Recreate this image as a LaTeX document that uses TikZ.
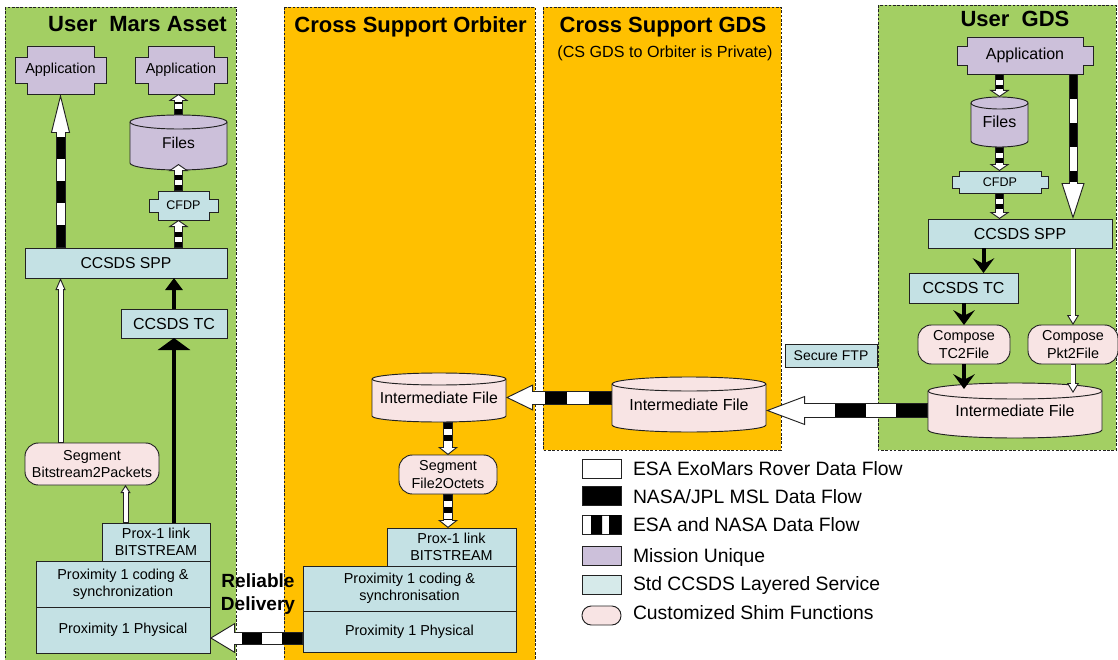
\documentclass[tikz,border=0pt]{standalone}
\usepackage{fontspec}
\setmainfont{Liberation Sans}
\usetikzlibrary{arrows.meta,calc}
\def\px{0.75pt}
\newcommand\fs[2]{\fontsize{#1}{#2}\selectfont}
\definecolor{grn}{HTML}{A3CF63}
\definecolor{org}{HTML}{FFC000}
\definecolor{lav}{HTML}{CCC0DA}
\definecolor{ccsds}{HTML}{C4E1E4}
\definecolor{ccsdsl}{HTML}{D6EAEA}
\definecolor{shimc}{HTML}{F8E4E4}
\definecolor{edge}{HTML}{222222}
% notched box: name, cx, cy, half width, half height, notch x, notch y, style, text
\newcommand\notched[9]{%
  \draw[shapeline,#8] (#2-#4+#6,#3-#5) -- (#2+#4-#6,#3-#5) -- (#2+#4-#6,#3-#5+#7) -- (#2+#4,#3-#5+#7) -- (#2+#4,#3+#5-#7) -- (#2+#4-#6,#3+#5-#7) -- (#2+#4-#6,#3+#5) -- (#2-#4+#6,#3+#5) -- (#2-#4+#6,#3+#5-#7) -- (#2-#4,#3+#5-#7) -- (#2-#4,#3-#5+#7) -- (#2-#4+#6,#3-#5+#7) -- cycle;
  \node[minimum width=2*#4*\px,minimum height=2*#5*\px] (#1) at (#2,#3) {#9};}
% cylinder: name, cx, cy, half width, half height, ellipse ry, style, text
\newcommand\cyl[8]{%
  \draw[shapeline,#7] (#2-#4,#3-#5+#6) -- (#2-#4,#3+#5-#6) arc[start angle=180,end angle=360,x radius=#4*\px,y radius=#6*\px] -- (#2+#4,#3-#5+#6) arc[start angle=0,end angle=180,x radius=#4*\px,y radius=#6*\px] -- cycle;
  \draw[shapeline] (#2-#4,#3-#5+#6) arc[start angle=180,end angle=360,x radius=#4*\px,y radius=#6*\px];
  \node[minimum width=2*#4*\px,minimum height=2*#5*\px] (#1) at (#2,#3) {#8};}
\begin{document}
\begin{tikzpicture}[x=0.75pt,y=-0.75pt,
  every node/.style={align=center,inner sep=0pt,outer sep=0pt},
  shapeline/.style={draw=edge,line width=0.7pt},
  panel/.style={draw=edge,line width=0.6pt,dash pattern=on 2pt off 1.2pt},
  box/.style={shapeline,fill=ccsds,font={\fs{10.8}{13}}},
  shim/.style={shapeline,fill=shimc,rounded corners=10pt,font={\fs{10.8}{13}}},
  title/.style={font={\bfseries\fs{16.5}{20}},anchor=base},
  legsw/.style={shapeline,minimum width=39*\px,minimum height=19*\px},
  legtext/.style={font={\fs{14.5}{17}},anchor=base west},
  stripe/.style n args={5}{draw=edge,line width=#1,
     -{Triangle[width=#2,length=#3,fill=white,line width'=0.7pt]},
     postaction={draw=white,line width=#5,arrows=-,shorten >=#3-1pt,shorten <=0.7pt},
     postaction={draw=black,line width=#5,arrows=-,shorten >=#3+0.4pt,shorten <=0.7pt,dash pattern=on #4 off #4}},
  wflow/.style n args={4}{draw=edge,line width=#1,
     -{Triangle[width=#2,length=#3,fill=white,line width'=0.7pt]},
     postaction={draw=white,line width=#4,arrows=-,shorten >=#3-1pt,shorten <=0.7pt}},
  bflow/.style n args={2}{draw=black,line width=3pt,-{Triangle[width=#1,length=#2]}},
  gflow/.style={draw=black,line width=3pt,-{Stealth[width=16pt,length=11pt,inset=4pt]}},
  bigL/.style={stripe={7.5pt}{14.25pt}{29.25pt}{16.5pt}{6pt}},
  smallS/.style={stripe={7pt}{15pt}{5.25pt}{3.75pt}{5.5pt}},
  smallO/.style={stripe={7.5pt}{15pt}{6pt}{4.5pt}{6pt}},
  bigG/.style={stripe={6.75pt}{17.25pt}{27pt}{18pt}{5.25pt}},
  horzA/.style={stripe={10.5pt}{19.5pt}{20.25pt}{16.5pt}{9pt}},
  horzB/.style={stripe={11.25pt}{21.75pt}{29.25pt}{23pt}{9.75pt}},
  horzC/.style={stripe={9.75pt}{22.5pt}{18.75pt}{15pt}{8.25pt}},
  wthinL/.style={wflow={4.5pt}{7.5pt}{9pt}{3pt}},
  wthinL2/.style={wflow={4.5pt}{7.5pt}{6pt}{3pt}},
  wthinG/.style={wflow={3.75pt}{9pt}{7.5pt}{2.3pt}},
]
\useasboundingbox (0,0) rectangle (1118,660);
% panels
\path[panel,fill=grn] (5,7) rectangle (236,664);
\path[panel,fill=org] (284,7) rectangle (535,664);
\path[panel,fill=org] (543,7) rectangle (781,450);
\path[panel,fill=grn] (878,5) rectangle (1116,450);
% titles
\node[title] (tmars) at (137.5,32) {User\ \ Mars Asset};
\node[title] (torb) at (410.5,33) {Cross Support Orbiter};
\node[title] (tcsg) at (663,33) {Cross Support GDS};
\node[font={\fs{12.1}{14}},anchor=base] (tpriv) at (665,58) {(CS GDS to Orbiter is Private)};
\node[title] (tugds) at (1015,27) {User\ \ GDS};
% User Mars Asset
\notched{app1}{60.5}{70}{45.5}{24}{12}{11}{fill=lav}{\fs{10.8}{13}Application}
\notched{app2}{181}{70}{46}{24}{13}{11}{fill=lav}{\fs{10.8}{13}Application}
\cyl{files}{178.5}{142.5}{48.5}{27.5}{7}{fill=lav}{\fs{11.7}{14}Files}
\notched{cfdp}{183.5}{205.5}{34.5}{14.5}{9}{8}{fill=ccsds}{\fs{9.4}{11}CFDP}
\node[box,minimum width=202*\px,minimum height=30*\px,font={\fs{11.8}{14}}] (spp) at (126,263) {CCSDS SPP};
\node[box,minimum width=106*\px,minimum height=29*\px,font={\fs{12}{14}}] (tc) at (174,323.5) {CCSDS TC};
\node[shim,minimum width=134*\px,minimum height=42*\px] (seg) at (92,464) {Segment\\Bitstream2Packets};
\node[box,minimum width=108*\px,minimum height=38*\px] (link) at (156,542) {Prox-1 link\\BITSTREAM};
\node[box,minimum width=174*\px,minimum height=46*\px] (coding) at (123,584) {Proximity 1 coding \&\\synchronization};
\node[box,minimum width=174*\px,minimum height=46*\px] (physm) at (123,630) {Proximity 1 Physical};
% Cross Support Orbiter
\cyl{ifo}{439}{397.5}{67}{24.5}{6}{fill=shimc}{\fs{11.9}{14}Intermediate File}
\node[shim,minimum width=98*\px,minimum height=39*\px] (sego) at (448,474.5) {Segment\\File2Octets};
\node[box,minimum width=129*\px,minimum height=38*\px] (linko) at (451.5,547) {Prox-1 link\\BITSTREAM};
\node[box,minimum width=213*\px,minimum height=45*\px] (codingo) at (409.5,588.5) {Proximity 1 coding \&\\synchronisation};
\node[box,minimum width=213*\px,minimum height=41*\px] (physo) at (409.5,631.5) {Proximity 1 Physical};
% Cross Support GDS
\cyl{ifg}{689}{404.5}{77}{27.5}{7}{fill=shimc}{\fs{12}{14}Intermediate File}
\node[box,minimum width=92*\px,minimum height=23*\px,font={\fs{10.5}{12}}] (ftp) at (831,355.5) {Secure FTP};
% User GDS
\notched{appg}{1025}{55.5}{68}{18.5}{10}{9}{fill=lav}{\fs{12}{14}Application}
\cyl{filesg}{999.5}{122}{28.5}{25}{6}{fill=lav}{\fs{12}{14}Files}
\notched{cfdpg}{1000}{182}{48}{11}{7}{5}{fill=ccsds}{\fs{9.4}{11}CFDP}
\node[box,minimum width=184*\px,minimum height=29*\px,font={\fs{12}{14}}] (sppg) at (1020,233.5) {CCSDS SPP};
\node[box,minimum width=109*\px,minimum height=30*\px,font={\fs{12}{14}}] (tcg) at (963.5,288) {CCSDS TC};
\node[shim,minimum width=92*\px,minimum height=39*\px] (tc2) at (964,344.5) {Compose\\TC2File};
\node[shim,minimum width=90*\px,minimum height=39*\px] (pkt) at (1073,344.5) {Compose\\Pkt2File};
\cyl{ifu}{1015}{410.5}{87}{27.5}{8}{fill=shimc}{\fs{12}{14}Intermediate File}
% helper coordinates
\coordinate (segin) at ($(seg.south west)!0.75!(seg.south east)$);
\coordinate (tcarr) at ([xshift=15pt]tcg.north);
% connectors: Mars Asset
\draw[bigL] (spp.north -| app1) -- (app1.south);
\draw[smallS] (files.north) -- (files.north |- app2.south);
\draw[smallS] (cfdp.north -| files) -- ($(files.south)+(0,-6)$);
\draw[smallS] (spp.north -| files) -- (cfdp.south -| files);
\draw[bflow={12.75pt}{9pt}] (tc.north) -- (tc.north |- spp.south);
\draw[bflow={24pt}{9pt}] (link.north -| tc) -- (tc.south);
\draw[wthinL] (seg.north -| app1) -- (spp.south -| app1);
\draw[wthinL2] (link.north -| segin) -- (segin);
% connectors: Orbiter and cross links
\draw[smallO] (ifo.south -| sego) -- (sego.north);
\draw[smallO] (sego.south) -- (sego.south |- linko.north);
\draw[horzA] (ifg.west |- ifo.east) -- (ifo.east);
\draw[horzB] (ifu.west) -- (ifu.west -| ifg.east);
\draw[horzC] ($(physo.west |- physm.east)+(0,8)$) -- ($(physm.east)+(0,8)$);
% connectors: User GDS
\draw[smallS] (appg.south -| filesg) -- (filesg.north);
\draw[smallS] (filesg.south) -- (filesg.south |- cfdpg.north);
\draw[smallS] (cfdpg.south -| filesg) -- (sppg.north -| filesg);
\draw[bigG] (appg.south -| pkt) -- (sppg.north -| pkt);
\draw[gflow] (sppg.south -| tcarr) -- (tcarr);
\draw[gflow] (tcg.south -| tc2) -- (tc2.north);
\draw[gflow] (tc2.south) -- ($(tc2.south |- ifu.north)+(0,6)$);
\draw[wthinG] (sppg.south -| pkt) -- (pkt.north);
\draw[wthinG] (pkt.south) -- ($(pkt.south |- ifu.north)+(0,10)$);
% Reliable delivery label
\node[font={\bfseries\fs{14.3}{17}}] (rd) at (258,594) {Reliable\\Delivery};
% legend
\node[legsw,fill=white] (lg1) at (601.5,468.5) {};
\node[legsw,fill=black] (lg2) at (601.5,495.5) {};
\node[legsw,fill=white] (lg3) at (601.5,524.5) {};
\fill[black] (591,515) rectangle (602,534) (609,515) rectangle (621,534);
\node[legsw,fill=lav] (lg4) at (601.5,555.5) {};
\node[legsw,fill=ccsdsl] (lg5) at (601.5,584.5) {};
\node[legsw,fill=shimc,rounded corners=7pt] (lg6) at (601.5,615.5) {};
\node[legtext] (lt1) at (633,475) {ESA ExoMars Rover Data Flow};
\node[legtext] (lt2) at (633,503) {NASA/JPL MSL Data Flow};
\node[legtext] (lt3) at (633,531) {ESA and NASA Data Flow};
\node[legtext] (lt4) at (633,562) {Mission Unique};
\node[legtext] (lt5) at (633,590) {Std CCSDS Layered Service};
\node[legtext] (lt6) at (633,619) {Customized Shim Functions};
\end{tikzpicture}
\end{document}
